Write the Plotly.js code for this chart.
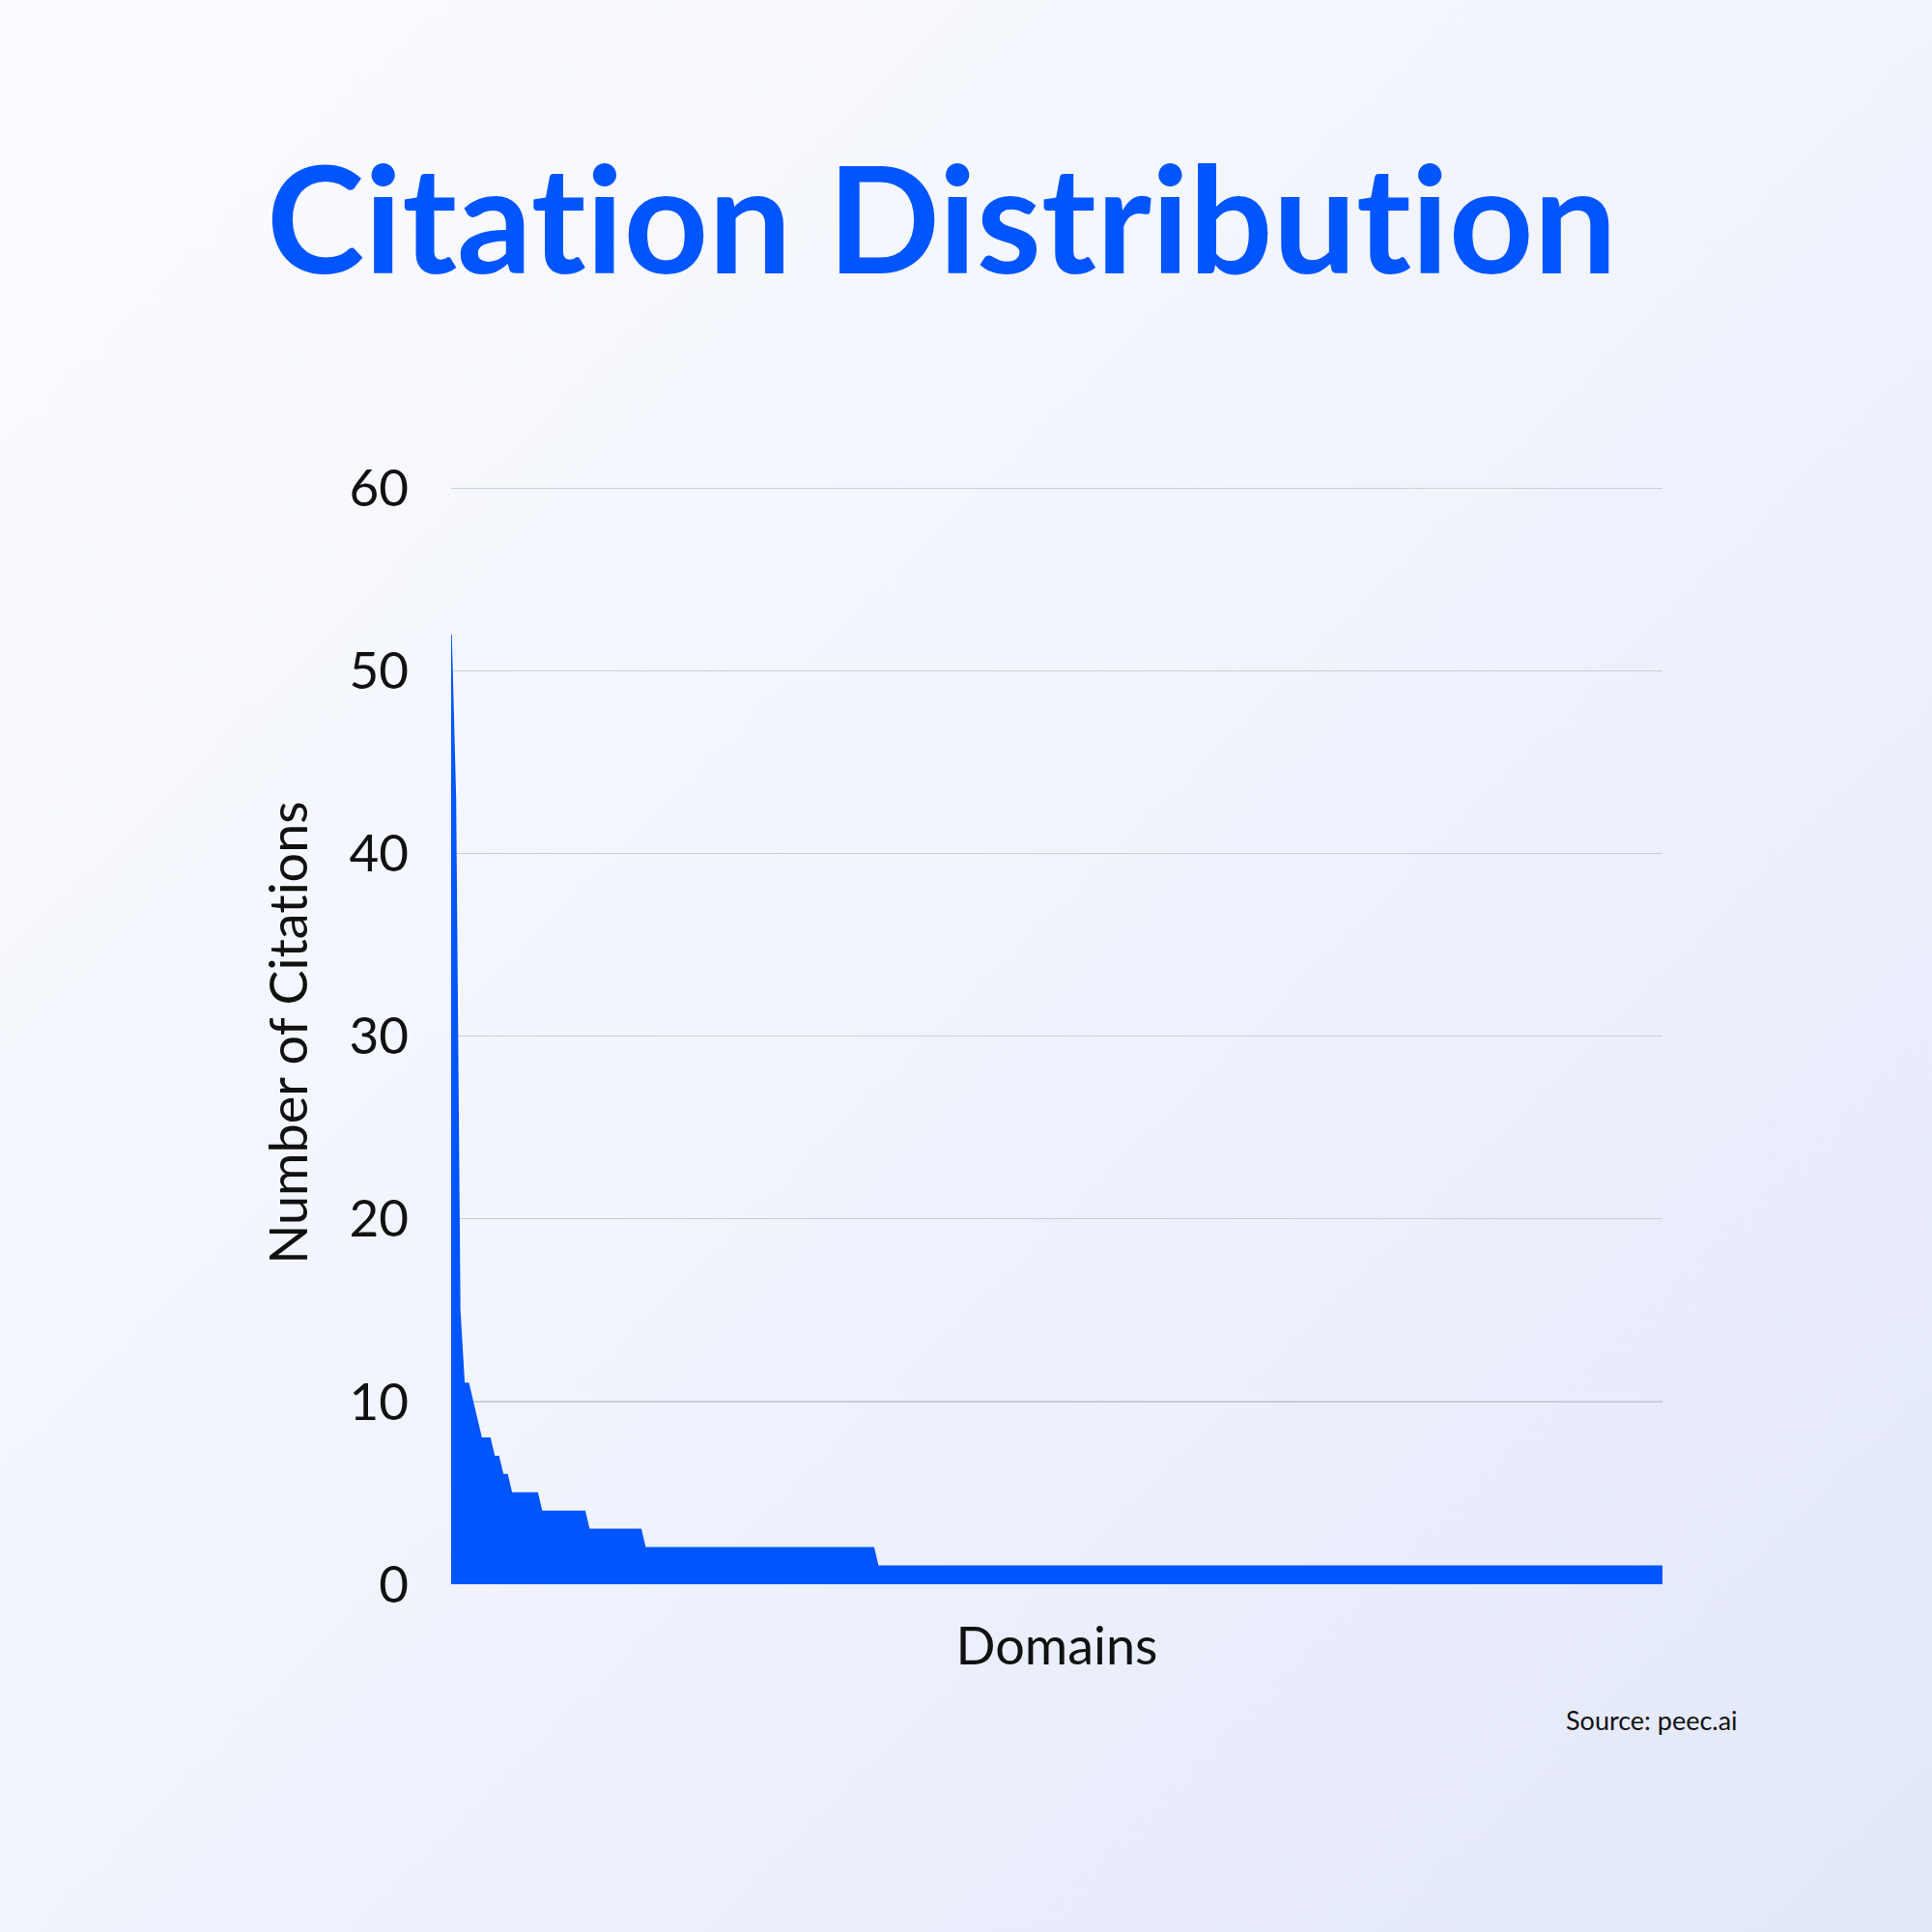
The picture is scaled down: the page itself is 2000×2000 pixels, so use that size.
<!DOCTYPE html>
<html>
<head>
<meta charset="utf-8">
<script src="https://cdn.plot.ly/plotly-3.0.1.min.js"></script>
<style>
  html, body {
    margin: 0;
    padding: 0;
    width: 2000px;
    height: 2000px;
    background: linear-gradient(135deg, #fbfcff 0%, #f1f4fd 50%, #e2e7fa 100%);
  }
  #chart { width: 2000px; height: 2000px; }
  /* no "ti" ligature in the title */
  svg text { font-variant-ligatures: none !important; font-feature-settings: "liga" 0, "clig" 0; }
</style>
</head>
<body>
<div id="chart"></div>
<script>
// -----------------------------
// Data
// -----------------------------
// first domains, one value each
const headValues = [52, 43, 15, 11, 11, 10, 9, 8, 8, 8, 7, 7, 6, 6];
// long tail: citation level and how many domains sit on it
const tailLevels = [5, 4, 3, 2, 1];
const tailCounts = [7, 11, 13, 54, 183];

const yTicks = [0, 10, 20, 30, 40, 50, 60];

const BLUE = "#0055ff";
const FONT = "Lato, 'Noto Sans', sans-serif";

// -----------------------------
// Build series
// -----------------------------
const citations = headValues.slice();
tailLevels.forEach((lvl, i) => {
  for (let k = 0; k < tailCounts[i]; k++) citations.push(lvl);
});
const domains = citations.map((_, i) => i);

const trace = {
  type: "scatter",
  mode: "lines",
  x: domains,
  y: citations,
  fill: "tozeroy",
  fillcolor: BLUE,
  line: { color: BLUE, width: 1.5 },
  hoverinfo: "skip"
};

// a little headroom above 60 so its grid line is kept
const layout = {
  width: 2000,
  height: 2000,
  paper_bgcolor: "rgba(0,0,0,0)",
  plot_bgcolor: "rgba(0,0,0,0)",
  margin: { l: 467, r: 279, t: 497, b: 359 },
  showlegend: false,
  font: { family: FONT, color: "#111111" },
  title: {
    text: "Citation Distribution",
    xref: "container",
    yref: "container",
    x: 0.4875,
    xanchor: "center",
    y: 1 - 229 / 2000,
    yanchor: "middle",
    font: { family: FONT, size: 153, weight: 700, color: BLUE }
  },
  xaxis: {
    range: [0, domains.length - 1],
    showticklabels: false,
    showgrid: false,
    zeroline: false,
    showline: false,
    ticks: "",
    title: { text: "Domains", standoff: 44, font: { size: 54, color: "#111111" } }
  },
  yaxis: {
    range: [-0.05, 60.45],
    tickvals: yTicks,
    ticktext: yTicks.map(String),
    showgrid: true,
    gridcolor: "#cacedb",
    gridwidth: 1.2,
    zeroline: false,
    showline: false,
    ticks: "",
    ticklabelstandoff: 43,
    tickfont: { size: 53, color: "#111111" },
    title: { text: "Number of Citations", standoff: 25, font: { size: 54, color: "#111111" } }
  },
  annotations: [{
    text: "Source: peec.ai",
    xref: "paper",
    yref: "paper",
    x: (1801 - 467) / 1254,
    y: (1640 - 1778) / 1135,
    xanchor: "right",
    yanchor: "middle",
    showarrow: false,
    font: { family: FONT, size: 27, color: "#111111" }
  }]
};

Plotly.newPlot("chart", [trace], layout, { displayModeBar: false, staticPlot: true });
</script>
</body>
</html>
